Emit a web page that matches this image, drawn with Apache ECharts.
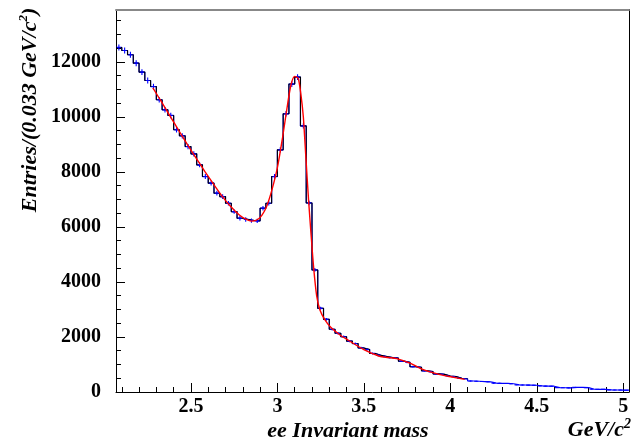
<!DOCTYPE html>
<html>
<head>
<meta charset="utf-8">
<script src="https://cdn.jsdelivr.net/npm/echarts@6.0.0/dist/echarts.min.js"></script>
<style>
html,body{margin:0;padding:0;background:#fff;}
#chart{width:637px;height:443px;}
</style>
</head>
<body>
<div id="chart"></div>
<script>
// ---- data ----
const BIN_LO = 2.0667;          // low edge of first bin (GeV/c^2)
const BIN_W = 1 / 30;           // bin width (~0.033 GeV/c^2)
const X_MIN = 2.0667, X_MAX = 5.0333;
const Y_MIN = 0, Y_MAX = 13900;

const counts = [
  12520, 12410, 12255, 11950, 11625, 11320, 11100, 10620, 10255, 10050,
  9530, 9310, 8920, 8655, 8255, 7830, 7590, 7225, 7100, 6860,
  6555, 6315, 6270, 6230, 6220, 6680, 6860, 7830, 8800, 10110,
  11190, 11444, 9670, 6870, 4436, 3040, 2640, 2280, 2135, 2010,
  1850, 1760, 1600, 1540, 1400, 1330, 1290, 1250, 1230, 1120,
  1080, 920, 900, 770, 740, 660, 640, 580, 560, 500,
  480, 400, 390, 380, 370, 320, 315, 310, 300, 260,
  255, 250, 245, 220, 215, 210, 160, 155, 150, 170,
  165, 160, 100, 98, 95, 75, 72, 70, 65
];
const FIT_LAST_BIN = 60;        // black histogram drawn over the fit range

const fitX = [2.28, 2.33, 2.38, 2.43, 2.48, 2.53, 2.58, 2.63, 2.68, 2.73,
  2.78, 2.82, 2.85, 2.88, 2.91, 2.94, 2.97, 3.00, 3.03, 3.06,
  3.08, 3.10, 3.12, 3.135, 3.15, 3.165, 3.18, 3.195, 3.21, 3.227,
  3.246, 3.275, 3.31, 3.36, 3.41, 3.50, 3.59, 3.64, 3.69, 3.77,
  3.84, 3.94, 4.01, 4.083];
const fitY = [11050, 10540, 10020, 9500, 8990, 8500, 8020, 7560, 7120, 6740,
  6430, 6270, 6210, 6250, 6420, 6780, 7380, 8150, 9250, 10500,
  11200, 11470, 11400, 10860, 10000, 8500, 7000, 5700, 4500, 3500,
  2980, 2620, 2340, 2080, 1880, 1540, 1300, 1255, 1215, 1040,
  820, 630, 545, 460];

const xMajorTicks = [2.5, 3, 3.5, 4, 4.5, 5];
const xTickLabels = ['2.5', '3', '3.5', '4', '4.5', '5'];
const xMinorTicks = [2.1, 2.2, 2.3, 2.4, 2.6, 2.7, 2.8, 2.9, 3.1, 3.2, 3.3, 3.4,
  3.6, 3.7, 3.8, 3.9, 4.1, 4.2, 4.3, 4.4, 4.6, 4.7, 4.8, 4.9];
const yMajorTicks = [0, 2000, 4000, 6000, 8000, 10000, 12000];
const yTickLabels = ['0', '2000', '4000', '6000', '8000', '10000', '12000'];
const yMinorTicks = [500, 1000, 1500, 2500, 3000, 3500, 4500, 5000, 5500, 6500, 7000, 7500,
  8500, 9000, 9500, 10500, 11000, 11500, 12500, 13000, 13500];

const xTitle = 'ee Invariant mass';
const xUnit = 'GeV/c';
const yTitle = 'Entries/(0.033 GeV/c';

// ---- build step outlines ----
function stepPoints(from, to) {
  const pts = [];
  for (let i = from; i <= to; i++) {
    const lo = BIN_LO + i * BIN_W;
    pts.push([lo, counts[i]], [lo + BIN_W, counts[i]]);
  }
  return pts;
}
const centers = counts.map((v, i) => [BIN_LO + (i + 0.5) * BIN_W, v]);

const FONT = '"Liberation Serif", "Times New Roman", serif';
const labelFmtX = v => { const k = xMajorTicks.findIndex(t => Math.abs(t - v) < 1e-6); return k >= 0 ? xTickLabels[k] : ''; };
const labelFmtY = v => { const k = yMajorTicks.findIndex(t => Math.abs(t - v) < 1e-6); return k >= 0 ? yTickLabels[k] : ''; };

const chart = echarts.init(document.getElementById('chart'), null, {renderer: 'canvas'});
const option = {
  animation: false,
  backgroundColor: '#fff',
  grid: {left: 116, right: 8, top: 9.5, bottom: 51, containLabel: false, outerBoundsMode: 'none'},
  xAxis: [
    {type: 'value', min: X_MIN, max: X_MAX, position: 'bottom',
     axisLine: {onZero: false, lineStyle: {color: '#000', width: 1}},
     axisTick: {inside: true, length: 9, customValues: xMajorTicks, lineStyle: {color: '#000', width: 1}},
     axisLabel: {customValues: xMajorTicks, formatter: labelFmtX, margin: 5, color: '#000',
                 fontFamily: FONT, fontWeight: 'bold', fontSize: 20},
     splitLine: {show: false}},
    {type: 'value', min: X_MIN, max: X_MAX, position: 'bottom',
     axisLine: {show: false, onZero: false},
     axisTick: {inside: true, length: 5, customValues: xMinorTicks, lineStyle: {color: '#000', width: 1}},
     axisLabel: {show: false}, splitLine: {show: false}},
    {type: 'value', min: X_MIN, max: X_MAX, position: 'top',
     axisLine: {onZero: false, lineStyle: {color: '#888', width: 2}},
     axisTick: {show: false}, axisLabel: {show: false}, splitLine: {show: false}}
  ],
  yAxis: [
    {type: 'value', min: Y_MIN, max: Y_MAX, position: 'left',
     axisLine: {show: true, onZero: false, lineStyle: {color: '#000', width: 1}},
     axisTick: {show: true, inside: true, length: 9, customValues: yMajorTicks, lineStyle: {color: '#000', width: 1}},
     axisLabel: {customValues: yMajorTicks, formatter: labelFmtY, margin: 15, color: '#000',
                 fontFamily: FONT, fontWeight: 'bold', fontSize: 20},
     splitLine: {show: false}},
    {type: 'value', min: Y_MIN, max: Y_MAX, position: 'left',
     axisLine: {show: false, onZero: false},
     axisTick: {show: true, inside: true, length: 5, customValues: yMinorTicks, lineStyle: {color: '#000', width: 1}},
     axisLabel: {show: false}, splitLine: {show: false}},
    {type: 'value', min: Y_MIN, max: Y_MAX, position: 'right',
     axisLine: {show: true, onZero: false, lineStyle: {color: '#000', width: 1}},
     axisTick: {show: false}, axisLabel: {show: false}, splitLine: {show: false}}
  ],
  series: [
    {type: 'line', xAxisIndex: 0, yAxisIndex: 0, data: stepPoints(0, counts.length - 1),
     showSymbol: false, symbol: 'none', z: 2, clip: true,
     lineStyle: {color: '#0000ff', width: 1.2}},
    {type: 'line', xAxisIndex: 0, yAxisIndex: 0, data: stepPoints(0, FIT_LAST_BIN),
     showSymbol: false, symbol: 'none', z: 3, clip: true,
     lineStyle: {color: '#000', width: 1.1}},
    {type: 'custom', xAxisIndex: 0, yAxisIndex: 0, data: centers, z: 4, clip: true,
     renderItem: function (params, api) {
       const x = api.value(0), y = api.value(1);
       const l = api.coord([x - BIN_W * 0.35, y]);
       const r = api.coord([x + BIN_W * 0.35, y]);
       const c = api.coord([x, y]);
       // statistical error bar (sqrt N) through the y scale
       const e = Math.sqrt(y);
       const top = api.coord([x, y + e]);
       const bot = api.coord([x, y - e]);
       const st = {stroke: '#0000ff', lineWidth: 1.1};
       return {type: 'group', children: [
         {type: 'line', shape: {x1: l[0], y1: l[1], x2: r[0], y2: r[1]}, style: st},
         {type: 'line', shape: {x1: c[0], y1: top[1], x2: c[0], y2: bot[1]}, style: st}
       ]};
     }},
    {type: 'line', xAxisIndex: 0, yAxisIndex: 0, data: fitX.map((x, i) => [x, fitY[i]]),
     showSymbol: false, symbol: 'none', smooth: 0.25, z: 5, clip: true,
     lineStyle: {color: '#ff0000', width: 1.4}}
  ],
  graphic: [
    {type: 'text', x: 348, y: 431, z: 10,
     style: {text: xTitle, align: 'center', verticalAlign: 'middle', fill: '#000',
             fontFamily: FONT, fontStyle: 'italic', fontWeight: 'bold', fontSize: 22}},
    {type: 'text', x: 631, y: 429, z: 10,
     style: {text: '{t|' + xUnit + '}{s|2}', align: 'right', verticalAlign: 'middle', fill: '#000',
             rich: {
               t: {fontFamily: FONT, fontStyle: 'italic', fontWeight: 'bold', fontSize: 22, lineHeight: 24, verticalAlign: 'bottom'},
               s: {fontFamily: FONT, fontStyle: 'italic', fontWeight: 'bold', fontSize: 14, lineHeight: 14, verticalAlign: 'top'}
             }}},
    {type: 'text', x: 29, y: 110, rotation: Math.PI / 2, z: 10,
     style: {text: '{t|' + yTitle + '}{s|2}{t|)}', align: 'center', verticalAlign: 'middle', fill: '#000',
             rich: {
               t: {fontFamily: FONT, fontStyle: 'italic', fontWeight: 'bold', fontSize: 22, lineHeight: 24, verticalAlign: 'bottom'},
               s: {fontFamily: FONT, fontStyle: 'italic', fontWeight: 'bold', fontSize: 13, lineHeight: 13, verticalAlign: 'top'}
             }}}
  ]
};
chart.setOption(option);
</script>
</body>
</html>
